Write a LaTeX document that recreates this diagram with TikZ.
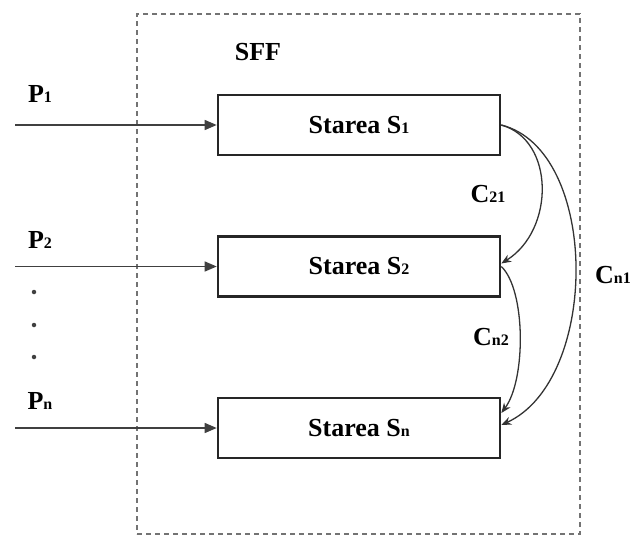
\documentclass[tikz,border=0pt]{standalone}
\usepackage{fontspec}
\setmainfont{Liberation Serif}
\usetikzlibrary{positioning, arrows.meta}
\newcommand{\idx}[1]{{\fontsize{16}{16}\selectfont #1}}

\begin{document}
\begin{tikzpicture}[
    x=1pt, y=-1pt,
    state/.style={rectangle, draw=black!85, line width=2.6pt, minimum width=282pt, minimum height=60pt, font=\fontsize{26}{30}\selectfont\bfseries},
    lbl/.style={font=\fontsize{26}{30}\selectfont\bfseries, inner sep=0pt},
    arr/.style={-{Triangle[length=12pt, width=10pt]}, line width=1.3pt, draw=black!75},
    cpl/.style={-{Stealth[length=10pt, width=8pt]}, line width=1.3pt, draw=black!80},
    dot/.style={circle, fill=black!75, inner sep=0pt, minimum size=4.5pt}
]
\useasboundingbox (0,0) rectangle (630,536);

\node[draw=black!55, dash pattern=on 5pt off 4pt, line width=1.3pt, minimum width=443pt, minimum height=520pt, inner sep=0pt] (sff) at (358.5,274) {};
\node[lbl] (title) at (258,52) {SFF};

\node[state] (s1) at (359,125) {Starea S\idx{1}};
\node[state] (s2) at (359,266.5) {Starea S\idx{2}};
\node[state] (sn) at (359,428) {Starea S\idx{n}};

\coordinate (in1) at (15,125);
\coordinate (in2) at (15,266.5);
\coordinate (inn) at (15,428);

\node[lbl] (p1) at (40,94) {P\idx{1}};
\node[lbl] (p2) at (40,240) {P\idx{2}};
\node[lbl] (pn) at (40,401) {P\idx{n}};
\foreach \y [count=\i] in {292,325,357}
    \node[dot] (dot\i) at (34,\y) {};

\draw[arr] (in1) -- (s1.west);
\draw[arr] (in2) -- (s2.west);
\draw[arr] (inn) -- (sn.west);

\draw[cpl] (s1.east) .. controls (555,140) and (555,230) .. ([yshift=3pt]s2.east);
\draw[cpl] (s2.east) .. controls (526,290) and (526,380) .. ([yshift=15pt]sn.east);
\draw[cpl] (s1.east) .. controls (600,150) and (600,380) .. ([yshift=3pt]sn.east);

\node[lbl] (c21) at (488,194) {C\idx{21}};
\node[lbl] (cn2) at (491,337) {C\idx{n2}};
\node[lbl] (cn1) at (613,275) {C\idx{n1}};

\end{tikzpicture}
\end{document}
